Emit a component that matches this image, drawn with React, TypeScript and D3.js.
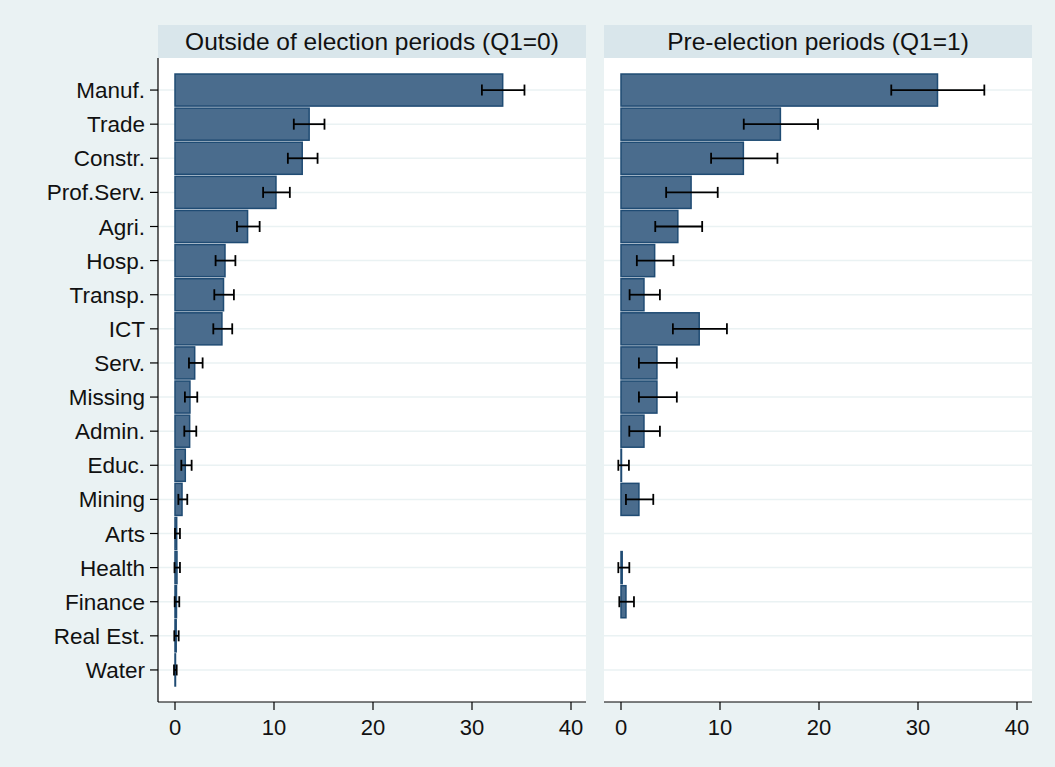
import React from 'react';
import * as d3 from 'd3';

// Industry categories, top to bottom
const categories = ["Manuf.", "Trade", "Constr.", "Prof.Serv.", "Agri.", "Hosp.", "Transp.", "ICT", "Serv.", "Missing", "Admin.", "Educ.", "Mining", "Arts", "Health", "Finance", "Real Est.", "Water"];

// Outside of election periods (Q1=0)
const outsideValues = [33.1, 13.55, 12.85, 10.2, 7.33, 5.05, 4.9, 4.74, 1.99, 1.51, 1.48, 1.04, 0.71, 0.17, 0.2, 0.15, 0.12, 0.05];
const outsideLow = [31.0, 12.0, 11.4, 8.9, 6.26, 4.1, 3.97, 3.87, 1.41, 1.0, 0.94, 0.64, 0.34, 0.0, -0.05, -0.03, -0.07, -0.1];
const outsideHigh = [35.3, 15.1, 14.4, 11.6, 8.55, 6.1, 5.95, 5.78, 2.79, 2.25, 2.15, 1.68, 1.24, 0.5, 0.5, 0.43, 0.37, 0.17];

// Pre-election periods (Q1=1)
const preValues = [31.97, 16.1, 12.36, 7.08, 5.74, 3.4, 2.32, 7.9, 3.63, 3.63, 2.32, 0.05, 1.81, null, 0.12, 0.5, null, null];
const preLow = [27.3, 12.4, 9.1, 4.56, 3.46, 1.6, 0.87, 5.24, 1.81, 1.81, 0.84, -0.27, 0.5, null, -0.27, -0.17, null, null];
const preHigh = [36.7, 19.9, 15.8, 9.77, 8.2, 5.3, 3.93, 10.7, 5.64, 5.64, 3.93, 0.8, 3.26, null, 0.84, 1.31, null, null];

const panelTitles = ["Outside of election periods (Q1=0)", "Pre-election periods (Q1=1)"];
const xTicks = [0, 10, 20, 30, 40];

const W = 1055;
const H = 767;
const BG = "#EAF2F3";
const HEADER = "#D9E6EB";
const FILL = "#4A6C8D";
const STROKE = "#1F4B73";
const FONT = "Liberation Sans, Arial, sans-serif";

const headerTop = 25;
const plotTop = 58;
const plotBottom = 702;
const panelWidth = 428;
const panelLefts = [158, 604];

type Panel = {
  title: string;
  left: number;
  values: (number | null)[];
  low: (number | null)[];
  high: (number | null)[];
};

const panels: Panel[] = [
  { title: panelTitles[0], left: panelLefts[0], values: outsideValues, low: outsideLow, high: outsideHigh },
  { title: panelTitles[1], left: panelLefts[1], values: preValues, low: preLow, high: preHigh },
];

const y = d3.scaleBand<string>()
  .domain(categories)
  .range([plotTop + 15, plotBottom - 15])
  .paddingInner(0.06)
  .paddingOuter(0.03);

const PanelView = ({ p, showY }: { p: Panel; showY: boolean }) => {
  const x = d3.scaleLinear().domain([0, 40]).range([p.left + 17, p.left + 413]);
  const bw = y.bandwidth();
  const cy = (c: string) => (y(c) as number) + bw / 2;
  const cap = 5.5;

  return (
    <g>
      {/* header strip */}
      <rect x={p.left} y={headerTop} width={panelWidth} height={plotTop - headerTop} fill={HEADER} />
      <text x={p.left + panelWidth / 2} y={headerTop + 24.5} textAnchor="middle" fontSize={24.5} fontFamily={FONT} fill="#111">{p.title}</text>

      {/* plot region */}
      <rect x={p.left} y={plotTop} width={panelWidth} height={plotBottom - plotTop} fill="white" />

      {/* gridlines */}
      {categories.map(c => (
        <line key={"g" + c} x1={p.left} x2={p.left + panelWidth} y1={cy(c)} y2={cy(c)} stroke={BG} strokeWidth={1.5} />
      ))}

      {/* bars */}
      {categories.map((c, i) => {
        const v = p.values[i];
        if (v == null) return null;
        return (
          <rect key={"b" + c} x={x(0)} y={y(c)} width={Math.max(0, x(v) - x(0))} height={bw}
            fill={FILL} stroke={STROKE} strokeWidth={1.5} />
        );
      })}

      {/* error bars */}
      {categories.map((c, i) => {
        const lo = p.low[i];
        const hi = p.high[i];
        if (lo == null || hi == null) return null;
        const yy = cy(c);
        return (
          <g key={"e" + c} stroke="black" strokeWidth={1.8}>
            <line x1={x(lo)} x2={x(hi)} y1={yy} y2={yy} />
            <line x1={x(lo)} x2={x(lo)} y1={yy - cap} y2={yy + cap} />
            <line x1={x(hi)} x2={x(hi)} y1={yy - cap} y2={yy + cap} />
          </g>
        );
      })}

      {/* y axis */}
      {showY && (
        <g>
          <line x1={p.left} x2={p.left} y1={plotTop} y2={plotBottom} stroke="black" strokeWidth={1.2} />
          {categories.map(c => (
            <g key={"t" + c}>
              <line x1={p.left - 8} x2={p.left} y1={cy(c)} y2={cy(c)} stroke="black" strokeWidth={1.2} />
              <text x={p.left - 13} y={cy(c) + 8} textAnchor="end" fontSize={22.5} fontFamily={FONT} fill="#111">{c}</text>
            </g>
          ))}
        </g>
      )}

      {/* x axis */}
      <line x1={p.left} x2={p.left + panelWidth} y1={plotBottom} y2={plotBottom} stroke="black" strokeWidth={1.2} />
      {xTicks.map(t => (
        <g key={"x" + t}>
          <line x1={x(t)} x2={x(t)} y1={plotBottom} y2={plotBottom + 8} stroke="black" strokeWidth={1.2} />
          <text x={x(t)} y={plotBottom + 33} textAnchor="middle" fontSize={22} fontFamily={FONT} fill="#111">{t}</text>
        </g>
      ))}
    </g>
  );
};

export default function App() {
  return (
    <svg width={W} height={H} style={{ display: 'block', position: 'absolute', left: 0, top: 0 }}>
      <rect x={0} y={0} width={W} height={H} fill={BG} />
      {panels.map((p, i) => <PanelView key={i} p={p} showY={i === 0} />)}
    </svg>
  );
}
